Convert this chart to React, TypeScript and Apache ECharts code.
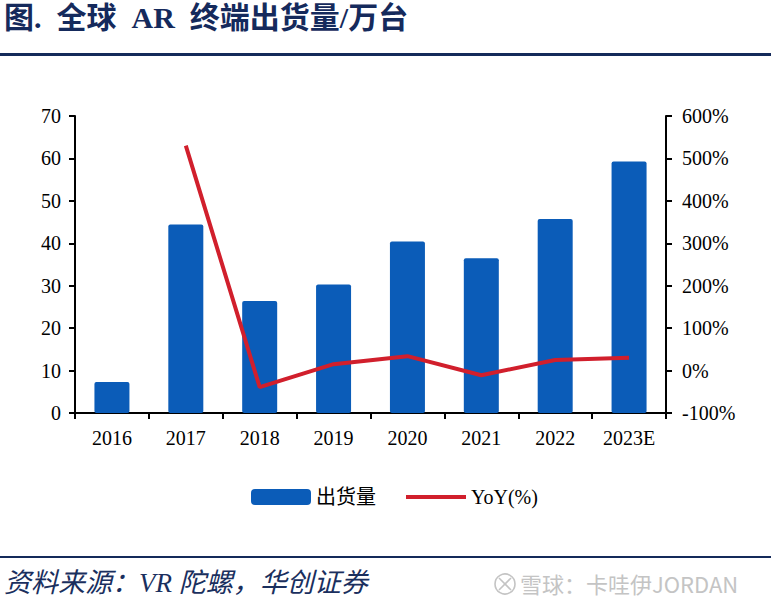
import React, { useEffect, useRef } from "react";
import * as echarts from "echarts";

const categories = ["2016", "2017", "2018", "2019", "2020", "2021", "2022", "2023E"];
const shipments = [7.3, 44.4, 26.4, 30.3, 40.4, 36.5, 45.7, 59.3];
const yoy = [null, 530, -39, 15, 34, -11, 25, 30];
const leftTicks = { min: 0, max: 70, interval: 10 };
const rightTicks = { min: -100, max: 600, interval: 100 };

const serif = "'Times New Roman', 'Liberation Serif', 'Noto Sans CJK SC', serif";

export default function App() {
  const ref = useRef<HTMLDivElement>(null);
  useEffect(() => {
    document.body.style.margin = "0";
    const chart = echarts.init(ref.current!, null, { renderer: "svg" });
    chart.setOption({
      animation: false,
      backgroundColor: "#ffffff",
      textStyle: { fontFamily: serif },
      grid: { left: 75, right: 105, top: 116, bottom: 196, containLabel: false },
      legend: {
        left: 246,
        top: 482,
        itemWidth: 60,
        itemHeight: 16,
        itemGap: 30,
        symbolKeepAspect: true,
        textStyle: { fontFamily: serif, fontSize: 20, color: "#000" },
        data: [
          { name: "出货量", icon: "roundRect" },
          { name: "YoY(%)", icon: "path://M0,0 L60,0 L60,4 L0,4 Z", itemStyle: { color: "#D11F2C" } },
        ],
      },
      xAxis: {
        type: "category",
        data: categories,
        boundaryGap: true,
        axisLine: { lineStyle: { color: "#000", width: 2 } },
        axisTick: { show: true, alignWithLabel: false, length: 6, lineStyle: { color: "#000", width: 2 } },
        axisLabel: { color: "#000", fontSize: 20, margin: 15, fontFamily: serif },
      },
      yAxis: [
        {
          type: "value",
          ...leftTicks,
          axisLine: { show: true, lineStyle: { color: "#000", width: 2 } },
          axisTick: { show: true, length: 6, lineStyle: { color: "#000", width: 2 } },
          axisLabel: { color: "#000", fontSize: 20, margin: 14, fontFamily: serif },
          splitLine: { show: false },
        },
        {
          type: "value",
          ...rightTicks,
          axisLine: { show: true, lineStyle: { color: "#000", width: 2 } },
          axisTick: { show: true, length: 6, lineStyle: { color: "#000", width: 2 } },
          axisLabel: { color: "#000", fontSize: 20, margin: 16, fontFamily: serif, formatter: "{value}%" },
          splitLine: { show: false },
        },
      ],
      series: [
        {
          name: "出货量",
          type: "bar",
          data: shipments,
          barWidth: 35,
          itemStyle: { color: "#0B5CB8", borderRadius: 2 },
        },
        {
          name: "YoY(%)",
          type: "line",
          yAxisIndex: 1,
          data: yoy,
          symbol: "none",
          lineStyle: { color: "#D11F2C", width: 4 },
          itemStyle: { color: "#D11F2C" },
        },
      ],
      graphic: [
        {
          type: "text",
          left: 4,
          top: 2,
          style: {
            text: "图.  全球  AR  终端出货量/万台",
            fill: "#152A5C",
            font: "bold 30px 'Times New Roman', 'Liberation Serif', 'Noto Sans CJK SC', serif",
          },
        },
        { type: "rect", shape: { x: 0, y: 53, width: 771, height: 3 }, style: { fill: "#142A5A" } },
        { type: "rect", shape: { x: 0, y: 556, width: 771, height: 2 }, style: { fill: "#142A5A" } },
        {
          type: "text",
          left: 4,
          top: 569,
          style: {
            text: "资料来源：VR 陀螺，华创证券",
            fill: "#1A2F5E",
            font: "italic 27px 'Times New Roman', 'Liberation Serif', 'Noto Sans CJK SC', serif",
          },
        },
        {
          type: "circle",
          shape: { cx: 505, cy: 584, r: 10 },
          style: { fill: "none", stroke: "#C4C4C4", lineWidth: 1.6 },
        },
        {
          type: "polyline",
          shape: { points: [[499, 578], [511, 590]] },
          style: { stroke: "#C4C4C4", lineWidth: 1.6 },
        },
        {
          type: "polyline",
          shape: { points: [[511, 578], [499, 590]] },
          style: { stroke: "#C4C4C4", lineWidth: 1.6 },
        },
        {
          type: "text",
          left: 520,
          top: 572,
          style: {
            text: "雪球：卡哇伊JORDAN",
            fill: "#C4C4C4",
            font: "22px 'Noto Sans CJK SC', sans-serif",
          },
        },
      ],
    });
    return () => chart.dispose();
  }, []);
  return <div ref={ref} style={{ width: 771, height: 609 }} />;
}
